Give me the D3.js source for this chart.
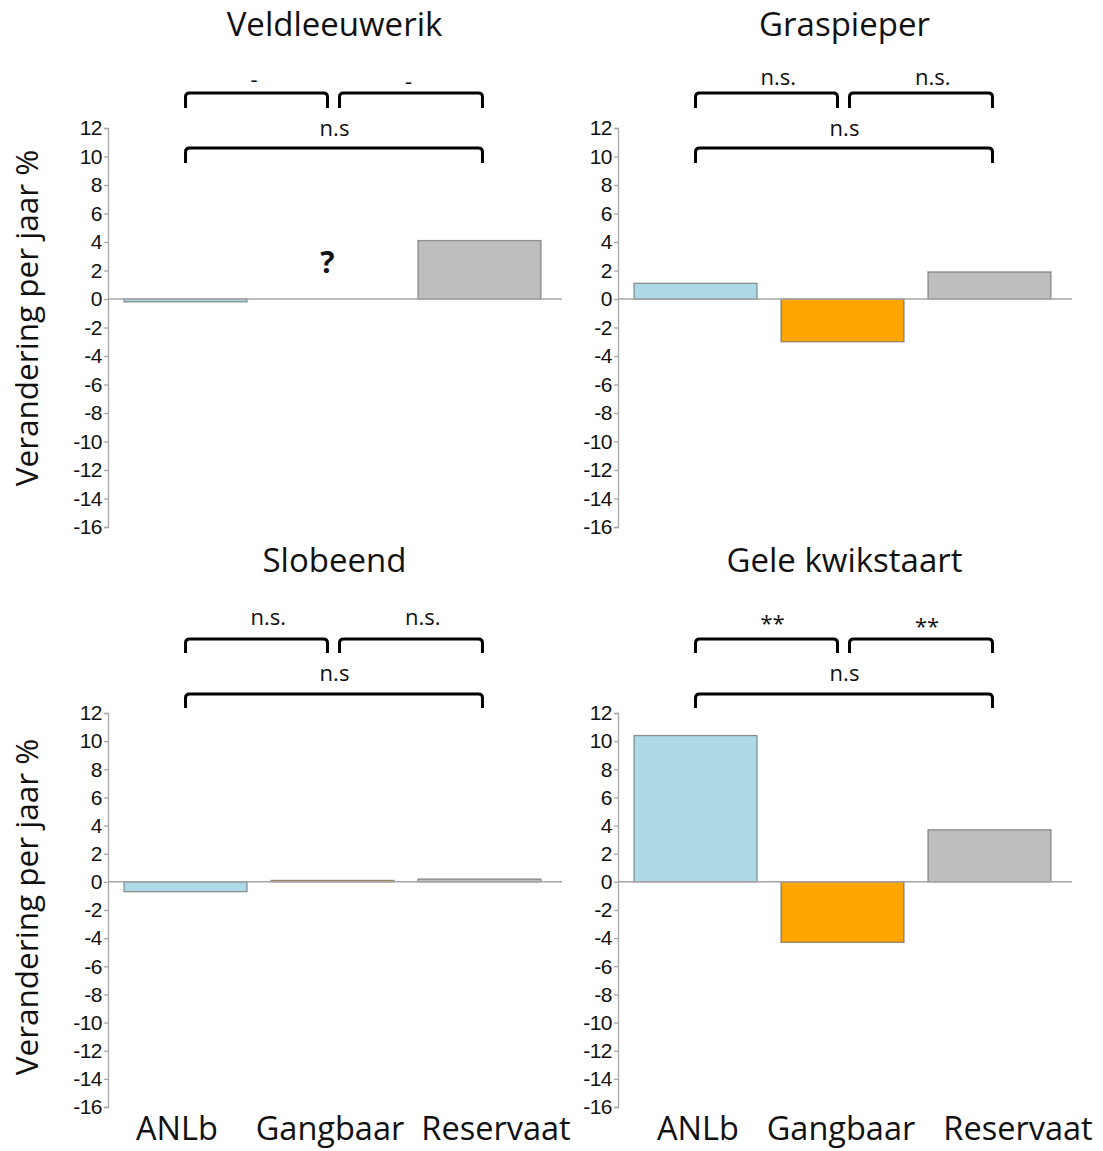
<!DOCTYPE html>
<html>
<head>
<meta charset="utf-8">
<script src="https://cdn.jsdelivr.net/npm/d3@7"></script>
<style>
  html, body { margin: 0; padding: 0; background: #fff; }
  svg { display: block; }
</style>
</head>
<body>
<svg id="chart" width="1103" height="1151"></svg>
<script>
// Jaarlijkse verandering (%) per beheertype, vier weidevogelsoorten
const categories = ["ANLb", "Gangbaar", "Reservaat"];
const species = ["Veldleeuwerik", "Graspieper", "Slobeend", "Gele kwikstaart"];
const veldleeuwerik = [-0.2, null, 4.1];
const graspieper = [1.1, -3.0, 1.9];
const slobeend = [-0.7, 0.1, 0.2];
const geleKwikstaart = [10.4, -4.3, 3.7];
const pairSignificance = [["-", "-"], ["n.s.", "n.s."], ["n.s.", "n.s."], ["**", "**"]];
const overallSignificance = ["n.s", "n.s", "n.s", "n.s"];
const yTicks = [12, 10, 8, 6, 4, 2, 0, -2, -4, -6, -8, -10, -12, -14, -16];
const barColors = ["#ADD8E6", "#FFA500", "#BEBEBE"];
const yLabel = "Verandering per jaar %";

const seriesBySpecies = [veldleeuwerik, graspieper, slobeend, geleKwikstaart];

const svg = d3.select("#chart");
const uiFont = "'Open Sans', 'Noto Sans', sans-serif";

// layout of the 2x2 grid
const colX = [108, 618];
const plotW = 449;
// horizontal offsets of the category names under each column
const labelOffsets = [[69, 222, 388], [80, 223, 400]];
const rows = [
  { yTop: 128, yBot: 527, title: 36, pairLine: 93, pairLeg: 108, pairText: 85,
    allLine: 148, allLeg: 163, allText: 136, yLabelY: 318 },
  { yTop: 713, yBot: 1107, title: 572, pairLine: 639, pairLeg: 653, pairText: 625,
    allLine: 694, allLeg: 708, allText: 681, yLabelY: 907 }
];

function bracket(g, x1, x2, yLine, yLeg) {
  const r = 4;
  const p = d3.path();
  p.moveTo(x1, yLeg);
  p.lineTo(x1, yLine + r);
  p.quadraticCurveTo(x1, yLine, x1 + r, yLine);
  p.lineTo(x2 - r, yLine);
  p.quadraticCurveTo(x2, yLine, x2, yLine + r);
  p.lineTo(x2, yLeg);
  g.append("path").attr("d", p.toString())
    .attr("fill", "none").attr("stroke", "#000").attr("stroke-width", 3);
}

species.forEach((name, i) => {
  const col = i % 2, rowIdx = Math.floor(i / 2);
  const row = rows[rowIdx];
  const x0 = colX[col];
  const values = seriesBySpecies[i];

  const x = d3.scaleBand().domain(categories)
    .range([x0, x0 + plotW]).paddingInner(0.163).paddingOuter(0.109);
  const y = d3.scaleLinear().domain([-16, 12]).range([row.yBot, row.yTop]);
  const labelX = d3.scaleOrdinal().domain(categories)
    .range(labelOffsets[col].map(o => x0 + o));

  const g = svg.append("g");

  // title
  g.append("text").attr("x", x0 + plotW / 2 + 2).attr("y", row.title)
    .attr("text-anchor", "middle").attr("font-family", uiFont)
    .attr("font-size", 33).attr("fill", "#111").text(name);

  // y axis
  const axis = d3.axisLeft(y).tickValues(yTicks).tickFormat(d => String(d))
    .tickSize(4).tickSizeOuter(4).tickPadding(2);
  const ag = g.append("g").attr("transform", `translate(${x0},0)`).call(axis);
  ag.selectAll("path, line").attr("stroke", "#A8A8A8").attr("stroke-width", 1.3);
  ag.selectAll("text").attr("font-size", 21)
    .attr("font-family", "'Liberation Sans', Arial, sans-serif")
    .attr("letter-spacing", -0.5).attr("fill", "#111");

  // bars
  const data = categories.map((c, k) => ({ c, v: values[k], color: barColors[k] }));
  g.selectAll("rect.bar").data(data.filter(d => d.v !== null)).join("rect")
    .attr("class", "bar")
    .attr("x", d => x(d.c))
    .attr("width", x.bandwidth())
    .attr("y", d => y(Math.max(0, d.v)))
    .attr("height", d => Math.abs(y(d.v) - y(0)))
    .attr("fill", d => d.color)
    .attr("stroke", "#555").attr("stroke-opacity", 0.6).attr("stroke-width", 1.3);

  // missing estimate
  data.filter(d => d.v === null).forEach(d => {
    g.append("text").attr("x", x(d.c) + x.bandwidth() / 2 - 5).attr("y", y(1.8))
      .attr("text-anchor", "middle").attr("font-family", uiFont)
      .attr("font-weight", "bold").attr("font-size", 30).attr("fill", "#111").text("?");
  });

  // zero line
  g.append("line").attr("x1", x0).attr("x2", x0 + plotW + 5)
    .attr("y1", y(0)).attr("y2", y(0))
    .attr("stroke", "#A6A6A6").attr("stroke-width", 1.5);

  // significance brackets
  const c = categories.map(k => x(k) + x.bandwidth() / 2);
  const b1 = [c[0], c[1] - 5], b2 = [c[1] + 7, c[2] + 3];
  bracket(g, b1[0], b1[1], row.pairLine, row.pairLeg);
  bracket(g, b2[0], b2[1], row.pairLine, row.pairLeg);
  bracket(g, c[0], c[2] + 3, row.allLine, row.allLeg);
  [b1, b2].forEach((b, k) => {
    const label = pairSignificance[i][k];
    const dy = (label === "**" ? 6 + k * 3 : 0) + (label === "-" ? 2 + k * 2 : 0);
    g.append("text").attr("x", (b[0] + b[1]) / 2 - 6).attr("y", row.pairText + dy)
      .attr("text-anchor", "start").attr("font-family", uiFont)
      .attr("font-size", 22).attr("fill", "#111").text(label);
  });
  g.append("text").attr("x", (c[0] + c[2]) / 2 + 2).attr("y", row.allText)
    .attr("text-anchor", "middle").attr("font-family", uiFont)
    .attr("font-size", 22).attr("fill", "#111").text(overallSignificance[i]);

  // category labels (bottom row only)
  if (rowIdx === 1) {
    g.selectAll("text.cat").data(categories).join("text")
      .attr("class", "cat")
      .attr("x", d => labelX(d)).attr("y", 1140)
      .attr("text-anchor", "middle").attr("font-family", uiFont)
      .attr("font-size", 32.5).attr("fill", "#111").text(d => d);
  }

  // y axis title (left column only)
  if (col === 0) {
    g.append("text").attr("transform", `translate(38,${row.yLabelY}) rotate(-90)`)
      .attr("text-anchor", "middle").attr("font-family", uiFont)
      .attr("font-size", 31.5).attr("fill", "#111").text(yLabel);
  }
});
</script>
</body>
</html>
